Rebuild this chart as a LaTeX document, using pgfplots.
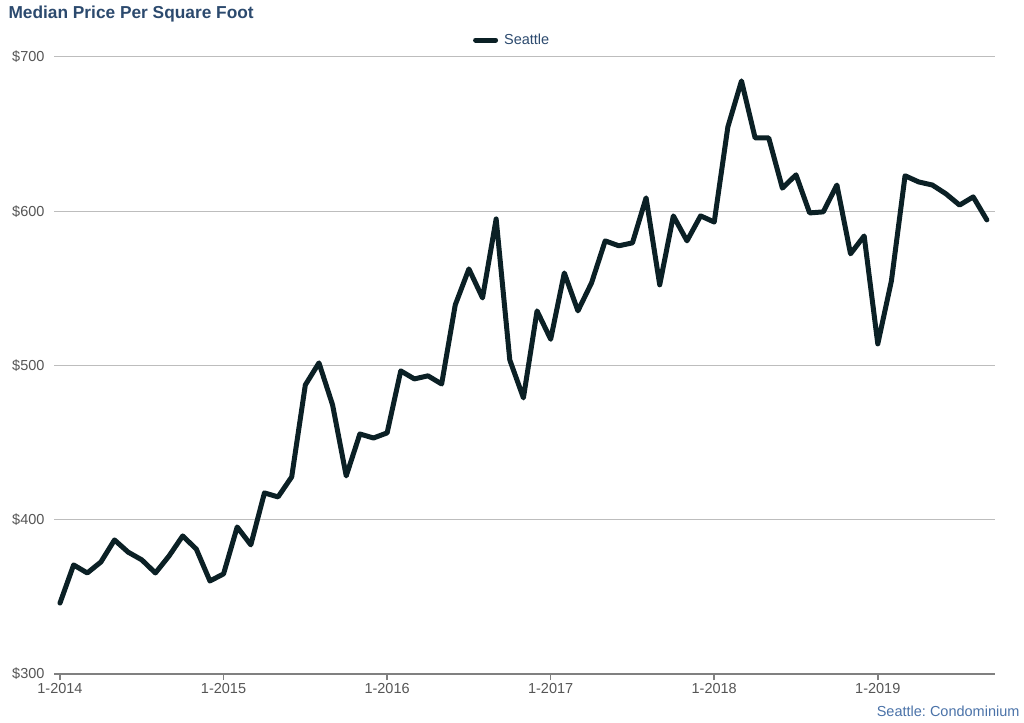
\documentclass[border=0pt]{standalone}
\usepackage{pgfplots}
\pgfplotsset{compat=1.18}
\usepackage{fontspec}
\setmainfont{Liberation Sans}
\definecolor{linec}{HTML}{0B2025}
\definecolor{titlec}{HTML}{2C4A6E}
\definecolor{srcc}{HTML}{4A72A8}
\definecolor{gridc}{HTML}{BDBDBD}
\definecolor{axc}{HTML}{808080}
\definecolor{tickc}{HTML}{555555}
\begin{document}
\begin{tikzpicture}[x=1pt,y=1pt]
\useasboundingbox (0,0) rectangle (1024,722);
\begin{axis}[
  at={(54pt,48pt)}, anchor=south west,
  scale only axis, width=941pt, height=617pt,
  xmin=-0.44, xmax=68.6, ymin=300, ymax=700,
  axis x line*=bottom, axis y line*=left,
  y axis line style={draw=none},
  x axis line style={axc, line width=2.5pt, -},
  xtick={0,12,24,36,48,60},
  xticklabels={1-2014,1-2015,1-2016,1-2017,1-2018,1-2019},
  ytick={300,400,500,600,700},
  yticklabels={\$300,\$400,\$500,\$600,\$700},
  ymajorgrids, grid style={gridc, line width=1pt},
  xtick style={axc, line width=1.5pt}, ytick style={draw=none},
  tick align=outside, major tick length=6pt,
  ticklabel style={font=\fontsize{14.5}{16}\selectfont, text=tickc},
  /pgf/number format/assume math mode=true,
  clip=false,
  legend style={at={(0.489,1.0275)}, anchor=center, draw=none, fill=none,
    font=\fontsize{14.5}{16}\selectfont, text=titlec,
    nodes={inner xsep=6pt}},
  legend image code/.code={\draw[line width=5pt] (0pt,0pt) -- (20pt,0pt);},
]
\addplot[linec, line width=5pt, line join=round, line cap=round] coordinates {
(0,346) (1,370.7) (2,365.5) (3,372.6) (4,386.9) (5,379) (6,374) (7,365.5)
(8,376.5) (9,389.5) (10,381) (11,360.3) (12,364.9) (13,395.3) (14,383.7)
(15,417.4) (16,414.8) (17,427.8) (18,487.4) (19,501.7) (20,474.4) (21,428.4)
(22,455.6) (23,453) (24,456.3) (25,496.5) (26,491.3) (27,493.3) (28,488)
(29,539.3) (30,562.6) (31,543.8) (32,595) (33,503.6) (34,479) (35,535.4)
(36,517) (37,560) (38,535.4) (39,553.6) (40,580.8) (41,577.6) (42,579.5)
(43,608.7) (44,552.3) (45,597) (46,580.8) (47,597) (48,593) (49,654.7)
(50,684.5) (51,647.5) (52,647.5) (53,615) (54,623.6) (55,598.9) (56,599.6)
(57,617) (58,572.4) (59,584) (60,514) (61,554.9) (62,623) (63,619) (64,617)
(65,611.3) (66,604) (67,609.3) (68,594.4)
};
\addlegendentry{Seattle}
\end{axis}
\node[anchor=west, font=\bfseries\fontsize{17.3}{20}\selectfont, text=titlec] at (5,708) {Median Price Per Square Foot};
\node[anchor=east, font=\fontsize{14.5}{16}\selectfont, text=srcc] at (1023,11) {Seattle:\ Condominium};
\end{tikzpicture}
\end{document}
